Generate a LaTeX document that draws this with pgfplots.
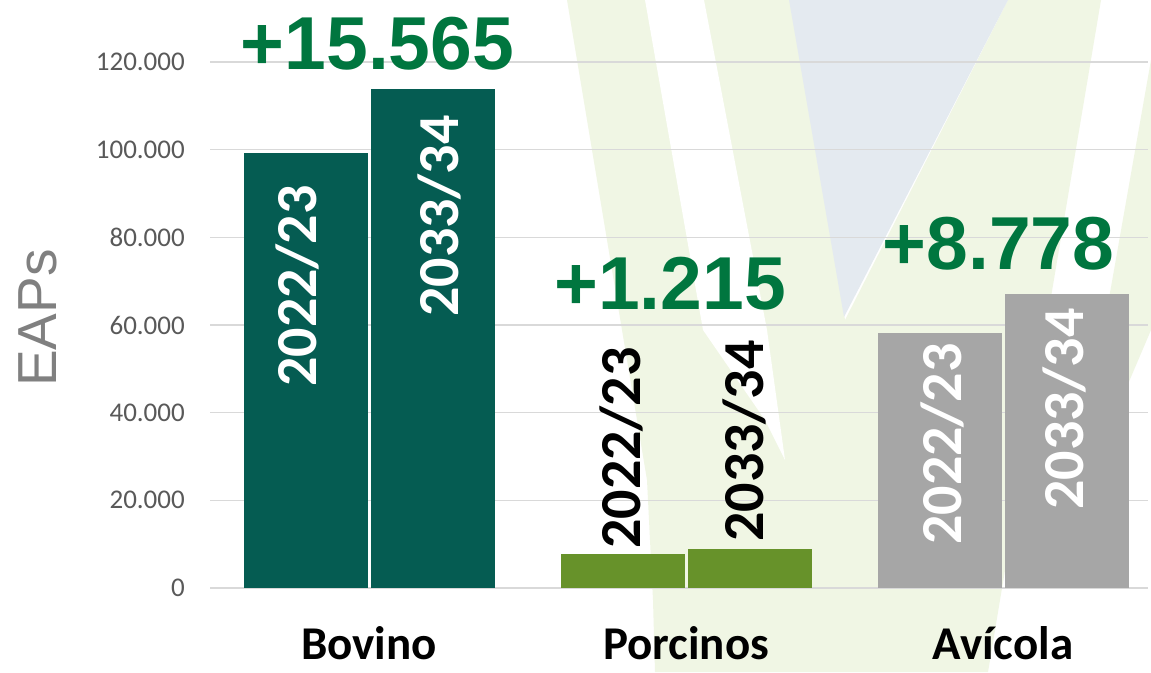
\documentclass[border=0pt]{standalone}
\usepackage{pgfplots}
\pgfplotsset{compat=1.18}
\usepackage{fontspec}
\setmainfont{Carlito}
\newfontfamily\arialf{Liberation Sans}
\definecolor{bov}{RGB}{5,92,82}
\definecolor{por}{RGB}{103,146,42}
\definecolor{avi}{RGB}{166,166,166}
\definecolor{anno}{RGB}{0,118,63}
\definecolor{tickgray}{RGB}{89,89,89}
\definecolor{labgray}{RGB}{128,128,128}
\definecolor{gridgray}{RGB}{217,217,217}
\definecolor{bggreen}{RGB}{240,246,228}
\definecolor{bgblue}{RGB}{228,234,240}
\begin{document}
\begin{tikzpicture}[x=1pt,y=1pt]
\useasboundingbox (0,0) rectangle (1151,672);
\fill[white] (0,0) rectangle (1151,672);
% background watermark (decoration)
\begin{scope}[shift={(0,672)}, yscale=-1]
\fill[bggreen] (567,0) -- (790,0) -- (845,320) -- (1008,0) -- (1101,0) -- (1000,600) -- (988,672) -- (655,672) -- (653,600) -- (647,480) -- (622,330) -- cycle;
\fill[white] (645,0) -- (704,0) -- (767,330) -- (785,460) -- (765,420) -- (703,330) -- cycle;
\fill[bgblue] (789,0) -- (1008,0) -- (844,317) -- cycle;
\fill[bggreen] (1151,60) -- (1151,330) -- (1070,520) -- cycle;
\end{scope}
\begin{axis}[
  at={(210pt,84pt)}, anchor=south west,
  scale only axis, width=938pt, height=526pt,
  xmin=-0.5016, xmax=2.457, ymin=0, ymax=120000,
  axis line style={draw=none},
  major tick length=0pt,
  ytick={0,20000,40000,60000,80000,100000,120000},
  yticklabels={0,20.000,40.000,60.000,80.000,100.000,120.000},
  scaled y ticks=false,
  ymajorgrids, grid style={draw=gridgray, line width=1.5pt},
  yticklabel style={font=\fontsize{27}{27}\selectfont, text=tickgray, anchor=east, inner sep=0pt, xshift=-25pt},
  xtick={0,1,2},
  xticklabels={Bovino,Porcinos,Avícola},
  xticklabel style={font=\bfseries\fontsize{47}{47}\selectfont, text=black, anchor=base, inner sep=0pt, yshift=-71pt},
  ybar, clip=false,
]
\addplot[ybar, bar width=124pt, bar shift=-63.5pt, fill=bov, draw=none] coordinates {(0,99200)};
\addplot[ybar, bar width=124pt, bar shift=63.5pt, fill=bov, draw=none] coordinates {(0,113800)};
\addplot[ybar, bar width=124pt, bar shift=-63.5pt, fill=por, draw=none] coordinates {(1,7700)};
\addplot[ybar, bar width=124pt, bar shift=63.5pt, fill=por, draw=none] coordinates {(1,8800)};
\addplot[ybar, bar width=124pt, bar shift=-63.5pt, fill=avi, draw=none] coordinates {(2,58100)};
\addplot[ybar, bar width=124pt, bar shift=63.5pt, fill=avi, draw=none] coordinates {(2,67100)};
% difference annotations
\node[anchor=base, text=anno, font=\arialf\bfseries\fontsize{75}{75}\selectfont, inner sep=0pt] at (axis cs:0.0268,118176) {+15.565};
\node[anchor=base, text=anno, font=\arialf\bfseries\fontsize{75}{75}\selectfont, inner sep=0pt] at (axis cs:0.9495,63423) {+1.215};
\node[anchor=base, text=anno, font=\arialf\bfseries\fontsize{75}{75}\selectfont, inner sep=0pt] at (axis cs:1.9858,72549) {+8.778};
% bar labels
\begin{scope}[every node/.style={rotate=90, anchor=base, inner sep=0pt, font=\bfseries\fontsize{58}{58}\selectfont}]
\node[text=white] at (axis cs:-0.165,68898) {2022/23};
\node[text=white] at (axis cs:0.2817,84868) {2033/34};
\node[text=black] at (axis cs:0.8549,31940) {2022/23};
\node[text=black] at (axis cs:1.2438,33537) {2033/34};
\node[text=white] at (axis cs:1.8697,32852) {2022/23};
\node[text=white] at (axis cs:2.2533,40837) {2033/34};
\end{scope}
\end{axis}
\node[rotate=90, text=labgray, font=\arialf\fontsize{55}{55}\selectfont, inner sep=0pt] at (38,354) {EAPs};
\end{tikzpicture}
\end{document}
